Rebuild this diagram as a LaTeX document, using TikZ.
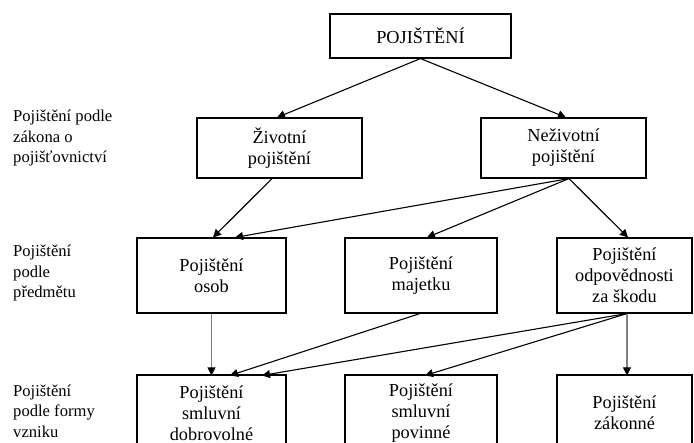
\documentclass[tikz,border=0pt]{standalone}
\usepackage{fontspec}
\setmainfont{Liberation Serif}
\usetikzlibrary{arrows.meta}
\begin{document}
\begin{tikzpicture}[x=1pt,y=-1pt,
  box/.style={draw,line width=1.1pt,align=center,inner sep=0pt,font=\fontsize{18.3}{21}\selectfont},
  lbl/.style={anchor=west,align=left,inner sep=0pt,font=\fontsize{16.6}{20.5}\selectfont},
  arr/.style={line width=1.1pt,-{Triangle[length=8pt,width=8pt]}},
  garr/.style={line width=1.1pt,draw=black!50,-{Triangle[length=8pt,width=8pt,color=black]}}]
\useasboundingbox (0,0) rectangle (694,443);
\clip (0,0) rectangle (694,443);
\node[box,minimum width=181pt,minimum height=44pt] (top) at (420.5,36) {POJIŠTĚNÍ};
\node[box,minimum width=165pt,minimum height=60pt] (ziv) at (279.5,148) {Životní\\pojištění};
\node[box,minimum width=165pt,minimum height=60pt] (nez) at (563.5,148) {Neživotní\\pojištění};
\node[box,minimum width=149pt,minimum height=75pt] (osob) at (211.5,275.5) {Pojištění\\osob};
\node[box,minimum width=152pt,minimum height=75pt] (maj) at (421,275.5) {Pojištění\\majetku};
\node[box,minimum width=135pt,minimum height=75pt] (odp) at (624.5,275.5) {Pojištění\\odpovědnosti\\za škodu};
\node[box,minimum width=149pt,minimum height=76pt] (dob) at (211.5,413) {Pojištění\\smluvní\\dobrovolné};
\node[box,minimum width=152pt,minimum height=76pt] (pov) at (421,413) {Pojištění\\smluvní\\povinné};
\node[box,minimum width=135pt,minimum height=76pt] (zak) at (624.5,413) {Pojištění\\zákonné};
\node[lbl] (l1) at (13,138) {Pojištění podle\\zákona o\\pojišťovnictví};
\node[lbl] (l2) at (13,273) {Pojištění\\podle\\předmětu};
\node[lbl] (l3) at (13,411) {Pojištění\\podle formy\\vzniku};
\draw[arr] (top.south) -- ([xshift=-2.5pt]ziv.north);
\draw[arr] (top.south) -- ([xshift=2.5pt]nez.north);
\draw[arr] ([xshift=-7.5pt]ziv.south) -- ([xshift=1.5pt]osob.north);
\draw[arr] ([xshift=5.5pt]nez.south) -- ([xshift=23.5pt]osob.north);
\draw[arr] ([xshift=5.5pt]nez.south) -- ([xshift=6pt]maj.north);
\draw[arr] ([xshift=5.5pt]nez.south) -- ([xshift=3.5pt]odp.north);
\draw[garr] (osob.south) -- ([yshift=-1pt]dob.north);
\draw[arr] ([xshift=-1pt]maj.south) -- ([xshift=18.5pt,yshift=-1pt]dob.north);
\draw[arr] ([xshift=2.5pt]odp.south) -- ([xshift=50.5pt,yshift=-1pt]dob.north);
\draw[arr] ([xshift=2.5pt]odp.south) -- ([xshift=4pt,yshift=-1pt]pov.north);
\draw[garr] ([xshift=2.5pt]odp.south) -- ([xshift=2.5pt,yshift=-1pt]zak.north);
\end{tikzpicture}
\end{document}
